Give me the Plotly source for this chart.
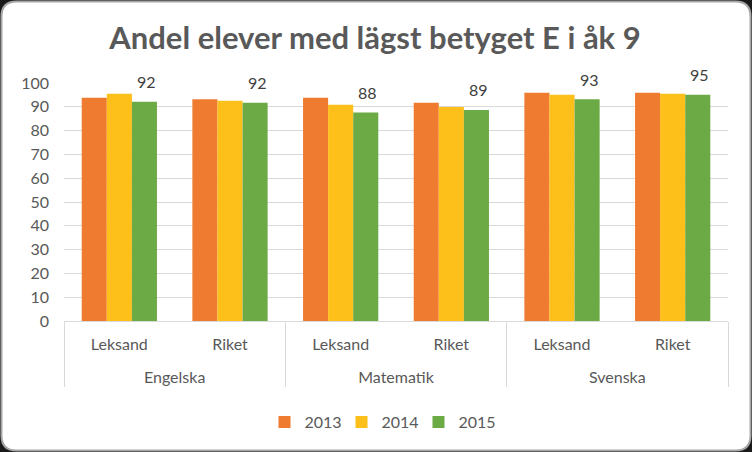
import plotly.graph_objects as go

subjects = ["Engelska", "Engelska", "Matematik", "Matematik", "Svenska", "Svenska"]
regions = ["Leksand", "Riket", "Leksand", "Riket", "Leksand", "Riket"]
years = ["2013", "2014", "2015"]
v2013 = [93.8, 93.2, 93.8, 91.7, 95.9, 95.9]
v2014 = [95.5, 92.5, 90.9, 89.9, 95.1, 95.5]
v2015 = [92.1, 91.7, 87.6, 88.7, 93.2, 95.1]
colors = ["#EE7B30", "#FDBF1A", "#6BAA45"]

W, H = 752, 452
ML, MR, MT, MB = 64, 24, 83, 131
PW, PH = W - ML - MR, H - MT - MB

def px(x):
    return (x - ML) / PW

def py(y):
    return (H - MB - y) / PH

subj_lbl = ["<br>" + s for s in subjects]

fig = go.Figure()
for name, vals, col in zip(years, [v2013, v2014, v2015], colors):
    fig.add_trace(go.Bar(
        x=[subj_lbl, regions], y=vals, name=name,
        marker=dict(color=col, line=dict(width=0)),
    ))

# data labels on 2015 series
for s, r, v in zip(subj_lbl, regions, v2015):
    fig.add_annotation(
        x=[s, r], y=v, xref="x", yref="y", text=f"{round(v)}",
        showarrow=False, xshift=27, yshift=20,
        font=dict(family="Lato", size=16, color="#404040"),
    )

# rounded chart frame
r = 15
x0, x1, y0, y1 = 1.5, W - 1.5, 1.5, H - 1.5
path = (f"M {px(x0 + r)},{py(y0)} L {px(x1 - r)},{py(y0)} "
        f"Q {px(x1)},{py(y0)} {px(x1)},{py(y0 + r)} "
        f"L {px(x1)},{py(y1 - r)} Q {px(x1)},{py(y1)} {px(x1 - r)},{py(y1)} "
        f"L {px(x0 + r)},{py(y1)} Q {px(x0)},{py(y1)} {px(x0)},{py(y1 - r)} "
        f"L {px(x0)},{py(y0 + r)} Q {px(x0)},{py(y0)} {px(x0 + r)},{py(y0)} Z")
fig.add_shape(type="path", path=path, xref="paper", yref="paper",
              fillcolor="white", line=dict(color="#A6A6A6", width=2), layer="below")

fig.update_layout(
    width=W, height=H,
    margin=dict(l=ML, r=MR, t=MT, b=MB),
    paper_bgcolor="#1a1a1a", plot_bgcolor="rgba(0,0,0,0)",
    barmode="group", bargap=0.32, bargroupgap=0,
    font=dict(family="Lato", size=16, color="#595959"),
    title=dict(text="<b>Andel elever med lägst betyget E i åk 9</b>",
               x=px(375), xanchor="center", xref="paper", y=(H - 38) / H, yanchor="middle",
               font=dict(family="Lato", size=31, color="#595959")),
    showlegend=True,
    legend=dict(orientation="h", x=px(380), xanchor="center", y=py(422), yanchor="middle",
                font=dict(size=16, color="#595959"), bgcolor="rgba(0,0,0,0)",
                itemwidth=30, entrywidth=32, traceorder="normal"),
)
fig.update_yaxes(range=[0, 100], dtick=10, showgrid=True, gridcolor="#D9D9D9", gridwidth=1,
                 zeroline=False, showline=False, ticks="", ticklabelstandoff=14,
                 tickfont=dict(size=16, color="#595959"))
fig.update_xaxes(type="multicategory", showline=True, linecolor="#D9D9D9", linewidth=1,
                 showdividers=True, dividercolor="#D9D9D9", dividerwidth=1, ticks="",
                 ticklabelstandoff=9,
                 tickfont=dict(size=16, color="#595959"))

fig.write_html("out.html", config={"displayModeBar": False},
               post_script="document.body.style.margin='0';")
